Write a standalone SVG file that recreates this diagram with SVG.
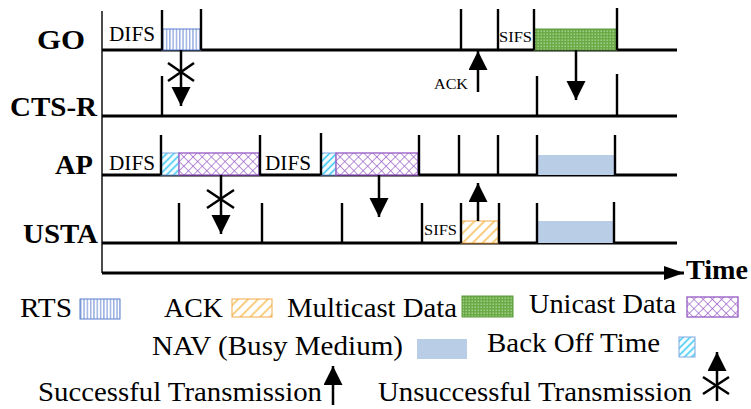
<svg xmlns="http://www.w3.org/2000/svg" width="751" height="409" viewBox="0 0 751 409">
  <defs>
    <!-- fill patterns for frame types -->
    <pattern id="pRts" patternUnits="userSpaceOnUse" width="3.3" height="10">
      <rect width="3.3" height="10" fill="#ffffff"/>
      <line x1="1.6" y1="0" x2="1.6" y2="10" stroke="#5b7fd0" stroke-width="0.9"/>
    </pattern>
    <pattern id="pAck" patternUnits="userSpaceOnUse" width="7" height="7" patternTransform="rotate(45)">
      <rect width="7" height="7" fill="#ffffff"/>
      <line x1="2" y1="0" x2="2" y2="7" stroke="#f7b43c" stroke-width="1.3"/>
    </pattern>
    <pattern id="pMulti" patternUnits="userSpaceOnUse" width="3" height="3">
      <rect width="3" height="3" fill="#6aab46"/>
      <rect x="0.6" y="0.6" width="1.1" height="1.1" fill="#d8ecc8"/>
    </pattern>
    <pattern id="pUni" patternUnits="userSpaceOnUse" width="6.5" height="6.5" patternTransform="rotate(45)">
      <rect width="6.5" height="6.5" fill="#ffffff"/>
      <line x1="0" y1="0" x2="0" y2="6.5" stroke="#9558c4" stroke-width="1.3"/>
      <line x1="0" y1="0" x2="6.5" y2="0" stroke="#9558c4" stroke-width="1.3"/>
    </pattern>
    <pattern id="pBack" patternUnits="userSpaceOnUse" width="5" height="5" patternTransform="rotate(45)">
      <rect width="5" height="5" fill="#ffffff"/>
      <line x1="1.5" y1="0" x2="1.5" y2="5" stroke="#33c8f5" stroke-width="1.6"/>
    </pattern>
    <marker id="head" markerUnits="userSpaceOnUse" markerWidth="20" markerHeight="20" refX="19" refY="9.5" orient="auto">
      <path d="M0,0 L19,9.5 L0,19 Z" fill="#000"/>
    </marker>
    <marker id="timeHead" markerUnits="userSpaceOnUse" markerWidth="22" markerHeight="16" refX="20" refY="7" orient="auto">
      <path d="M0,0 L20,7 L0,14 Z" fill="#000"/>
    </marker>
  </defs>
  <style>
    .base { stroke: #000; stroke-width: 3; fill: none; }
    .tick { stroke: #000; stroke-width: 2.4; fill: none; }
    .arrow { stroke: #000; stroke-width: 2.5; fill: none; marker-end: url(#head); }
    .cross { stroke: #000; stroke-width: 2.5; fill: none; }
    .rowlabel { font-family: "Liberation Serif", "Times New Roman", serif; font-weight: bold; font-size: 27px; fill: #000; }
    .ifs { font-family: "Liberation Serif", "Times New Roman", serif; font-size: 21px; fill: #000; }
    .small { font-family: "Liberation Serif", "Times New Roman", serif; font-size: 15px; fill: #000; }
    .legend { font-family: "Liberation Serif", "Times New Roman", serif; font-size: 27px; fill: #000; }
    .rts { fill: url(#pRts); stroke: #5b7fd0; stroke-width: 1; }
    .ack { fill: url(#pAck); stroke: #f2a94a; stroke-width: 1; }
    .multi { fill: url(#pMulti); stroke: #5e9c3c; stroke-width: 1; }
    .uni { fill: url(#pUni); stroke: #9558c4; stroke-width: 1.3; }
    .back { fill: url(#pBack); stroke: #7fa7e0; stroke-width: 1; }
    .nav { fill: #b9cde6; }
  </style>

  <rect width="751" height="409" fill="#ffffff"/>

  <!-- axes -->
  <g id="axes">
    <line x1="102" y1="11" x2="102" y2="273" stroke="#000" stroke-width="1.4"/>
    <line x1="102" y1="273" x2="684" y2="273" stroke="#000" stroke-width="3" marker-end="url(#timeHead)"/>
    <text class="rowlabel" x="686" y="279" textLength="62" lengthAdjust="spacingAndGlyphs">Time</text>
  </g>

  <!-- station GO -->
  <g id="go">
    <text class="rowlabel" x="37" y="49" textLength="48" lengthAdjust="spacingAndGlyphs">GO</text>
    <line class="base" x1="102" y1="50" x2="677" y2="50"/>
    <rect class="rts" x="162" y="29" width="39" height="21"/>
    <rect class="multi" x="534" y="29" width="83" height="21"/>
    <path class="tick" d="M162,10 V50 M201,9 V50 M461,9 V50 M498,9 V50 M534,9 V50 M617,8 V50"/>
    <text class="ifs" x="109" y="41" textLength="46" lengthAdjust="spacingAndGlyphs">DIFS</text>
    <text class="small" x="499" y="42" textLength="33" lengthAdjust="spacingAndGlyphs">SIFS</text>
  </g>

  <!-- station CTS-R -->
  <g id="cts-r">
    <text class="rowlabel" x="10" y="116" textLength="87" lengthAdjust="spacingAndGlyphs">CTS-R</text>
    <line class="base" x1="102" y1="116" x2="677" y2="116"/>
    <path class="tick" d="M162,76 V116 M537,76 V116 M617,74 V116"/>
    <text class="small" x="434" y="89" textLength="34" lengthAdjust="spacingAndGlyphs">ACK</text>
  </g>

  <!-- station AP -->
  <g id="ap">
    <text class="rowlabel" x="55" y="174" textLength="38" lengthAdjust="spacingAndGlyphs">AP</text>
    <line class="base" x1="102" y1="175" x2="677" y2="175"/>
    <rect class="back" x="161" y="153" width="18" height="22"/>
    <rect class="uni" x="179" y="153" width="80" height="22"/>
    <rect class="back" x="321" y="153" width="15" height="22"/>
    <rect class="uni" x="336" y="153" width="82" height="22"/>
    <rect class="nav" x="537" y="155" width="78" height="20"/>
    <path class="tick" d="M161,135 V175 M260,135 V175 M321,133 V175 M419,135 V175 M459,135 V175 M498,135 V175 M537,135 V175 M615,135 V175"/>
    <text class="ifs" x="109" y="170" textLength="46" lengthAdjust="spacingAndGlyphs">DIFS</text>
    <text class="ifs" x="265" y="170" textLength="46" lengthAdjust="spacingAndGlyphs">DIFS</text>
  </g>

  <!-- station USTA -->
  <g id="usta">
    <text class="rowlabel" x="23" y="243" textLength="75" lengthAdjust="spacingAndGlyphs">USTA</text>
    <line class="base" x1="102" y1="243" x2="677" y2="243"/>
    <rect class="ack" x="461" y="221" width="37" height="22"/>
    <rect class="nav" x="537" y="221" width="77" height="22"/>
    <path class="tick" d="M179,203 V243 M262,203 V243 M342,203 V243 M422,203 V243 M461,203 V243 M499,203 V243 M537,203 V243 M614,202 V243"/>
    <text class="small" x="424" y="235" textLength="33" lengthAdjust="spacingAndGlyphs">SIFS</text>
  </g>

  <!-- transmissions between stations -->
  <g id="connectors">
    <line class="arrow" x1="181" y1="50" x2="181" y2="106"/>
    <path class="cross" d="M168,63 L194,81 M168,81 L194,63"/>
    <line class="arrow" x1="576" y1="50" x2="576" y2="100"/>
    <line class="arrow" x1="478" y1="92" x2="478" y2="51"/>
    <line class="arrow" x1="221" y1="175" x2="221" y2="234"/>
    <path class="cross" d="M207,190 L234,208 M207,208 L234,190"/>
    <line class="arrow" x1="379" y1="175" x2="379" y2="217"/>
    <line class="arrow" x1="478" y1="221" x2="478" y2="183"/>
  </g>

  <!-- legend -->
  <g id="legend">
    <text class="legend" x="20" y="317" textLength="52" lengthAdjust="spacingAndGlyphs">RTS</text>
    <rect class="rts" x="80" y="299" width="40" height="20"/>
    <text class="legend" x="164" y="317" textLength="59" lengthAdjust="spacingAndGlyphs">ACK</text>
    <rect class="ack" x="232" y="299" width="40" height="18"/>
    <text class="legend" x="287" y="317" textLength="170" lengthAdjust="spacingAndGlyphs">Multicast Data</text>
    <rect class="multi" x="462" y="296" width="51" height="21"/>
    <text class="legend" x="529" y="313" textLength="147" lengthAdjust="spacingAndGlyphs">Unicast Data</text>
    <rect class="uni" x="687" y="297" width="51" height="20"/>

    <text class="legend" x="152" y="355" textLength="251" lengthAdjust="spacingAndGlyphs">NAV (Busy Medium)</text>
    <rect class="nav" x="417" y="339" width="50" height="20"/>
    <text class="legend" x="487" y="352" textLength="173" lengthAdjust="spacingAndGlyphs">Back Off Time</text>
    <rect class="back" x="679" y="337" width="16" height="20"/>

    <text class="legend" x="38" y="401" textLength="284" lengthAdjust="spacingAndGlyphs">Successful Transmission</text>
    <line class="arrow" x1="333" y1="405" x2="333" y2="366"/>
    <text class="legend" x="378" y="401" textLength="314" lengthAdjust="spacingAndGlyphs">Unsuccessful Transmission</text>
    <line class="arrow" x1="717" y1="401" x2="717" y2="352"/>
    <path class="cross" d="M703,377 L729,394 M703,394 L729,377"/>
  </g>
</svg>
